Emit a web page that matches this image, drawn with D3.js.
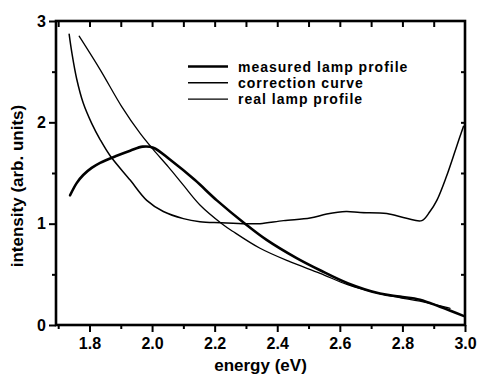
<!DOCTYPE html>
<html>
<head>
<meta charset="utf-8">
<script src="https://cdn.jsdelivr.net/npm/d3@7"></script>
<style>
  html, body { margin: 0; padding: 0; background: #fff; }
  svg { display: block; }
  text { font-family: "Liberation Sans", Arial, sans-serif; fill: #000; }
</style>
</head>
<body>
<svg id="chart" width="480" height="380"></svg>
<script>
// Lamp spectra (arbitrary units) versus photon energy in eV
const measuredEnergy = [1.738, 1.759, 1.78, 1.807, 1.834, 1.887, 1.93, 1.97, 2.004, 2.058, 2.137, 2.207, 2.297, 2.366, 2.462, 2.537, 2.627, 2.728, 2.792, 2.856, 2.92, 2.995];
const measuredIntensity = [1.28, 1.40, 1.48, 1.55, 1.60, 1.67, 1.72, 1.76, 1.75, 1.63, 1.43, 1.23, 1.00, 0.84, 0.66, 0.54, 0.41, 0.31, 0.28, 0.25, 0.18, 0.09];

const correctionEnergy = [1.735, 1.744, 1.759, 1.78, 1.807, 1.834, 1.866, 1.93, 1.983, 2.036, 2.10, 2.153, 2.22, 2.30, 2.345, 2.42, 2.505, 2.558, 2.62, 2.665, 2.75, 2.813, 2.862, 2.888, 2.91, 2.94, 2.973, 2.995];
const correctionIntensity = [2.87, 2.68, 2.43, 2.19, 1.99, 1.83, 1.67, 1.43, 1.23, 1.12, 1.05, 1.02, 1.01, 1.00, 1.00, 1.03, 1.055, 1.095, 1.12, 1.11, 1.10, 1.053, 1.03, 1.12, 1.23, 1.46, 1.76, 1.96];

const realEnergy = [1.767, 1.834, 1.903, 1.962, 2.004, 2.052, 2.10, 2.153, 2.223, 2.26, 2.345, 2.44, 2.537, 2.627, 2.728, 2.792, 2.856, 2.952];
const realIntensity = [2.85, 2.52, 2.155, 1.89, 1.73, 1.56, 1.38, 1.185, 1.00, 0.92, 0.757, 0.625, 0.51, 0.395, 0.31, 0.27, 0.235, 0.165];

const seriesNames = ["measured lamp profile", "correction curve", "real lamp profile"];
const xTickValues = [1.8, 2.0, 2.2, 2.4, 2.6, 2.8, 3.0];
const xTickLabels = ["1.8", "2.0", "2.2", "2.4", "2.6", "2.8", "3.0"];
const yTickValues = [0, 1, 2, 3];
const yTickLabels = ["0", "1", "2", "3"];

const svg = d3.select("#chart");
const m = { left: 56, right: 465, top: 21, bottom: 325 };

const x = d3.scaleLinear().domain([1.693, 3.0]).range([m.left, m.right]);
const y = d3.scaleLinear().domain([0, 3]).range([m.bottom, m.top]);

const series = [
  { name: seriesNames[0], xs: measuredEnergy, ys: measuredIntensity, width: 2.6 },
  { name: seriesNames[1], xs: correctionEnergy, ys: correctionIntensity, width: 1.5 },
  { name: seriesNames[2], xs: realEnergy, ys: realIntensity, width: 1.3 }
];

const line = d3.line()
  .x(d => x(d[0]))
  .y(d => y(d[1]))
  .curve(d3.curveCatmullRom.alpha(0.5));

// curves
svg.append("g").selectAll("path")
  .data(series)
  .join("path")
  .attr("d", s => line(s.xs.map((v, i) => [v, s.ys[i]])))
  .attr("fill", "none")
  .attr("stroke", "#000")
  .attr("stroke-width", s => s.width)
  .attr("stroke-linejoin", "round")
  .attr("stroke-linecap", "round");

// axes
const minorX = d3.range(1.7, 3.0, 0.2).map(v => +v.toFixed(1));
const topX = d3.range(1.7, 3.0, 0.1).map(v => +v.toFixed(1));
const minorY = [0.5, 1.5, 2.5];
const rightY = [0.5, 1, 1.5, 2, 2.5];

function styleAxis(g) {
  g.select(".domain").remove();
  g.selectAll(".tick line").attr("stroke", "#000").attr("stroke-width", 2);
  g.selectAll(".tick text")
    .attr("font-size", 16)
    .attr("font-weight", "bold")
    .attr("font-family", "'Liberation Sans', Arial, sans-serif");
}

svg.append("g")
  .attr("transform", `translate(0,${m.bottom})`)
  .call(d3.axisBottom(x).tickValues(xTickValues).tickFormat((d, i) => xTickLabels[i]).tickSize(7).tickPadding(6))
  .call(styleAxis);

svg.append("g")
  .attr("transform", `translate(0,${m.bottom})`)
  .call(d3.axisBottom(x).tickValues(minorX).tickFormat("").tickSize(4))
  .call(styleAxis);

svg.append("g")
  .attr("transform", `translate(${m.left},0)`)
  .call(d3.axisLeft(y).tickValues(yTickValues).tickFormat((d, i) => yTickLabels[i]).tickSize(7).tickPadding(3))
  .call(styleAxis);

svg.append("g")
  .attr("transform", `translate(${m.left},0)`)
  .call(d3.axisLeft(y).tickValues(minorY).tickFormat("").tickSize(4))
  .call(styleAxis);

svg.append("g")
  .attr("transform", `translate(0,${m.top})`)
  .call(d3.axisBottom(x).tickValues(topX).tickFormat("").tickSize(6))
  .call(styleAxis);

svg.append("g")
  .attr("transform", `translate(${m.right},0)`)
  .call(d3.axisLeft(y).tickValues(rightY).tickFormat("").tickSize(4))
  .call(styleAxis);

// frame
svg.append("rect")
  .attr("x", m.left).attr("y", m.top)
  .attr("width", m.right - m.left).attr("height", m.bottom - m.top)
  .attr("fill", "none").attr("stroke", "#000").attr("stroke-width", 2.6);

// axis titles
svg.append("text")
  .attr("x", (m.left + m.right) / 2).attr("y", 371)
  .attr("text-anchor", "middle")
  .attr("font-size", 17).attr("font-weight", "bold")
  .text("energy (eV)");

svg.append("text")
  .attr("transform", "translate(23,186) rotate(-90)")
  .attr("text-anchor", "middle")
  .attr("font-size", 17).attr("font-weight", "bold")
  .text("intensity (arb. units)");

// legend
const legend = svg.append("g");
const rows = [66.5, 82.8, 99.1];
series.forEach((s, i) => {
  legend.append("line")
    .attr("x1", 188).attr("x2", 228)
    .attr("y1", rows[i]).attr("y2", rows[i])
    .attr("stroke", "#000").attr("stroke-width", s.width);
  legend.append("text")
    .attr("x", 238).attr("y", rows[i] + 5)
    .attr("font-size", 14).attr("font-weight", "bold")
    .attr("letter-spacing", 1)
    .text(s.name);
});
</script>
</body>
</html>
